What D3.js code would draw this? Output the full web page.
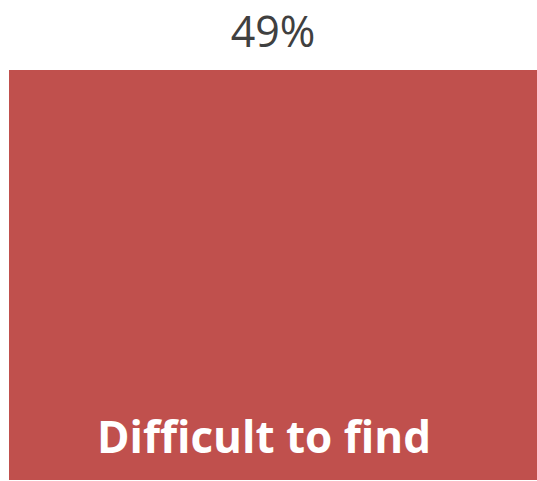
<!DOCTYPE html>
<html>
<head>
<meta charset="utf-8">
<script src="https://cdn.jsdelivr.net/npm/d3@7"></script>
<style>
  html, body { margin: 0; padding: 0; background: #fff; }
  svg { display: block; }
</style>
</head>
<body>
<div id="chart"></div>
<script>
const categories = ["Difficult to find"];
const values = [49];
const valueLabels = ["49%"];

const width = 537;
const height = 481;
const margin = { top: 70, right: 0, bottom: 1, left: 9 };

const svg = d3.select("#chart")
  .append("svg")
  .attr("width", width)
  .attr("height", height);

const x = d3.scaleBand()
  .domain(categories)
  .range([margin.left, width - margin.right])
  .padding(0);

const y = d3.scaleLinear()
  .domain([0, d3.max(values)])
  .range([height - margin.bottom, margin.top]);

svg.selectAll(".bar")
  .data(values)
  .enter()
  .append("rect")
  .attr("class", "bar")
  .attr("x", (_, i) => x(categories[i]))
  .attr("y", d => y(d))
  .attr("width", x.bandwidth())
  .attr("height", d => y(0) - y(d))
  .attr("fill", "#c0504d");

// value label above the bar
svg.selectAll(".value")
  .data(values)
  .enter()
  .append("text")
  .attr("class", "value")
  .attr("x", (_, i) => x(categories[i]) + x.bandwidth() / 2)
  .attr("y", d => y(d) - 23)
  .attr("text-anchor", "middle")
  .attr("font-family", "Open Sans, sans-serif")
  .attr("font-size", 43)
  .attr("fill", "#404040")
  .text((_, i) => valueLabels[i]);

// category label inside the bar
svg.selectAll(".cat")
  .data(categories)
  .enter()
  .append("text")
  .attr("class", "cat")
  .attr("x", d => x(d) + x.bandwidth() / 2 - 9)
  .attr("y", y(0) - 27)
  .attr("text-anchor", "middle")
  .attr("font-family", "Open Sans, sans-serif")
  .attr("font-weight", "bold")
  .attr("font-size", 44)
  .attr("fill", "#fff")
  .text(d => d);
</script>
</body>
</html>
